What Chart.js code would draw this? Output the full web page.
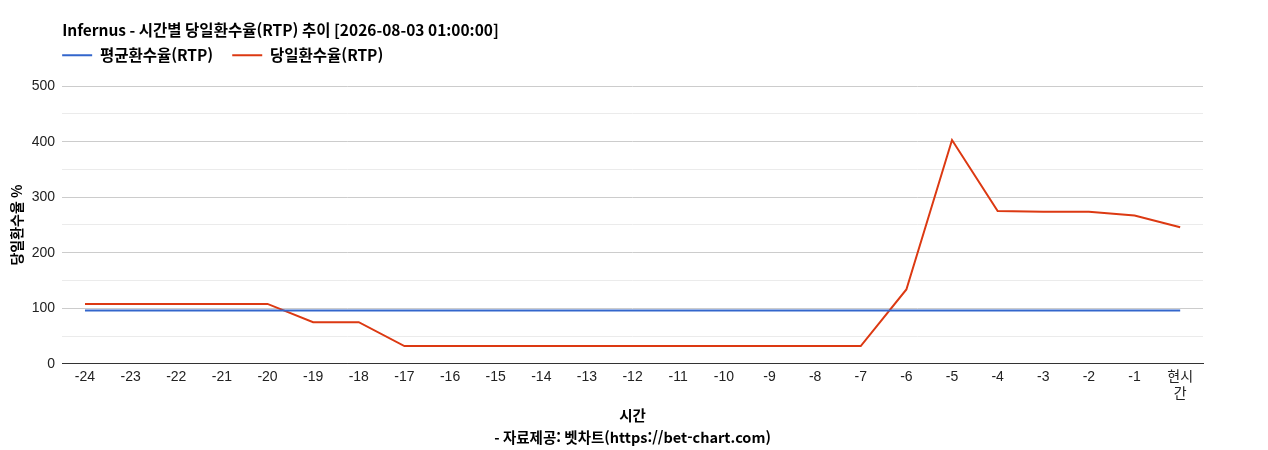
<!DOCTYPE html>
<html lang="ko">
<head>
<meta charset="utf-8">
<title>Infernus RTP</title>
<script src="https://cdn.jsdelivr.net/npm/chart.js@4/dist/chart.umd.min.js"></script>
<style>
    html, body { margin: 0; padding: 0; background: #fff; }
    #caja { width: 1268px; height: 450px; }
</style>
</head>
<body>
<div id="caja"><canvas id="grafico"></canvas></div>
<script>
// datos
const horas = ['-24', '-23', '-22', '-21', '-20', '-19', '-18', '-17', '-16', '-15', '-14', '-13', '-12',
    '-11', '-10', '-9', '-8', '-7', '-6', '-5', '-4', '-3', '-2', '-1', ['현시', '간']];
const promedioRtp = [96, 96, 96, 96, 96, 96, 96, 96, 96, 96, 96, 96, 96,
    96, 96, 96, 96, 96, 96, 96, 96, 96, 96, 96, 96];
const rtpDia = [108, 108, 108, 108, 108, 75, 75, 32, 32, 32, 32, 32, 32,
    32, 32, 32, 32, 32, 134, 403, 275, 274, 274, 267, 246];
const ticksY = [0, 100, 200, 300, 400, 500];

const fuenteTexto = "'Noto Sans CJK KR', 'Noto Sans', sans-serif";
const fuenteNum = "'Liberation Sans', Arial, 'Noto Sans CJK KR', sans-serif";

// mueve titulo y leyenda al borde izquierdo del area del grafico
// y ajusta el alto de la leyenda
const alinearIzquierda = {
    id: 'alinearIzquierda',
    beforeInit(chart) {
        const leyenda = chart.legend;
        if (!leyenda) return;
        const fitOriginal = leyenda.fit;
        leyenda.fit = function() {
            fitOriginal.call(this);
            this.height += 2;
        };
    },
    afterLayout(chart) {
        const izq = chart.chartArea.left;
        if (chart.titleBlock) chart.titleBlock.left = izq;
        if (chart.legend) {
            chart.legend.left = izq - 19;
            chart.legend.top -= 11;
        }
    }
};

document.addEventListener('DOMContentLoaded', function() {
    const ctx = document.getElementById('grafico').getContext('2d');
    new Chart(ctx, {
        type: 'line',
        data: {
            labels: horas,
            datasets: [{
                label: '평균환수율(RTP)',
                data: promedioRtp,
                borderColor: '#3366cc',
                backgroundColor: '#3366cc',
                borderWidth: 2,
                pointRadius: 0,
                tension: 0
            }, {
                label: '당일환수율(RTP)',
                data: rtpDia,
                borderColor: '#dc3912',
                backgroundColor: '#dc3912',
                borderWidth: 2,
                pointRadius: 0,
                tension: 0
            }]
        },
        options: {
            responsive: true,
            maintainAspectRatio: false,
            animation: false,
            layout: { padding: { top: 0, right: 65, bottom: 0, left: 8 } },
            plugins: {
                title: {
                    display: true,
                    text: 'Infernus - 시간별 당일환수율(RTP) 추이 [2026-08-03 01:00:00]',
                    align: 'start',
                    color: '#000',
                    font: { family: fuenteTexto, size: 15.5, weight: 'bold', lineHeight: 1.2 },
                    padding: { top: 21, bottom: 0 }
                },
                legend: {
                    position: 'top',
                    align: 'start',
                    labels: {
                        usePointStyle: true,
                        pointStyle: 'line',
                        pointStyleWidth: 30,
                        color: '#000',
                        padding: 19,
                        font: { family: fuenteTexto, size: 15.5, weight: 'bold' }
                    }
                },
                tooltip: { enabled: false }
            },
            scales: {
                x: {
                    offset: true,
                    grid: { display: false, drawTicks: false },
                    border: { display: true, color: '#333', width: 1 },
                    ticks: {
                        color: '#222',
                        autoSkip: false,
                        maxRotation: 0,
                        padding: 5,
                        font: { family: fuenteNum, size: 14 }
                    },
                    title: {
                        display: true,
                        text: ['시간', '- 자료제공: 벳차트(https://bet-chart.com)'],
                        color: '#000',
                        font: { family: fuenteTexto, size: 14.5, weight: 'bold', lineHeight: 1.5 },
                        padding: { top: -3, bottom: 2 }
                    }
                },
                y: {
                    min: 0,
                    max: 500,
                    border: { display: false },
                    grid: {
                        drawTicks: false,
                        color: function(c) {
                            const v = c.tick ? c.tick.value : 0;
                            if (v === 0) return '#333';
                            return ticksY.includes(v) ? '#cccccc' : '#ebebeb';
                        }
                    },
                    ticks: {
                        stepSize: 50,
                        padding: 7,
                        color: '#222',
                        font: { family: fuenteNum, size: 14 },
                        callback: function(v) {
                            return ticksY.includes(v) ? v : '';
                        }
                    },
                    title: {
                        display: true,
                        text: '당일환수율 %',
                        color: '#000',
                        font: { family: fuenteTexto, size: 14, weight: 'bold' },
                        padding: { top: 0, bottom: 0 }
                    }
                }
            }
        },
        plugins: [alinearIzquierda]
    });
});
</script>
</body>
</html>
